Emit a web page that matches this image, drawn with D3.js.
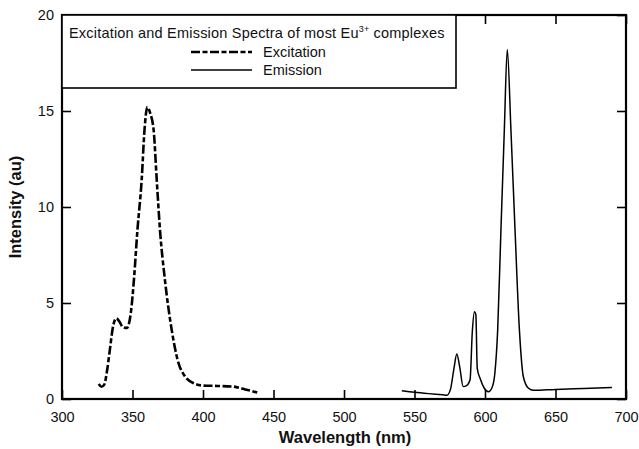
<!DOCTYPE html>
<html><head><meta charset="utf-8">
<script src="https://cdn.jsdelivr.net/npm/d3@7"></script>
<style>body{margin:0;background:#fff}svg{display:block}text{font-family:"Liberation Sans",Arial,sans-serif}</style>
</head><body><svg id="c" width="639" height="449"></svg>
<script>
const excWavelength = [326,328,330,332,334,336,338.5,341,343,346,349,351,353.5,356.5,358.5,360.5,362.5,365,367.2,369.5,373,377.8,382.5,387,394,400,410,421,430,440];
const excIntensity  = [0.78,0.64,0.75,1.5,2.6,3.7,4.2,4.0,3.75,3.7,4.6,6.2,8.8,11.4,14.0,15.2,14.9,14.0,11.4,8.8,6.2,3.6,1.9,1.2,0.8,0.7,0.68,0.65,0.5,0.3];
const emWavelength  = [541,550,560,570,573,575.5,578,580,582,584.5,587,589.4,591,592.5,593.5,594.5,596.5,599.5,602.4,605,607,609,611.3,613.7,615.8,618.4,621.3,624.4,627.2,630.7,634.3,650,670,690];
const emIntensity   = [0.43,0.35,0.28,0.22,0.2,0.5,1.6,2.35,1.7,0.65,0.7,1.0,3.5,4.55,4.4,1.6,1.08,0.56,0.38,0.6,1.35,3.6,8.8,14,18.2,14,8.8,3.6,1.16,0.57,0.45,0.5,0.55,0.6];
const xTicks = [300,350,400,450,500,550,600,650,700];
const yTicks = [0,5,10,15,20];
const seriesNames = ["Excitation","Emission"];
const legendTitle = "Excitation and Emission Spectra of most Eu";

const svg = d3.select("#c");
const L=62,R=626,T=15,B=399;
const x = d3.scaleLinear().domain([300,700]).range([L,R]);
const y = d3.scaleLinear().domain([0,20]).range([B,T]);

const fs = 14.5;
const ax = svg.append("g").attr("transform",`translate(0,${B})`)
  .call(d3.axisBottom(x).tickValues(xTicks).tickSizeInner(-9).tickSizeOuter(0).tickPadding(13));
const axT = svg.append("g").attr("transform",`translate(0,${T})`)
  .call(d3.axisTop(x).tickValues(xTicks).tickSizeInner(-9).tickSizeOuter(0).tickFormat(""));
const ayl = svg.append("g").attr("transform",`translate(${L},0)`)
  .call(d3.axisLeft(y).tickValues(yTicks).tickSizeInner(-9).tickSizeOuter(0).tickPadding(8));
const ayr = svg.append("g").attr("transform",`translate(${R},0)`)
  .call(d3.axisRight(y).tickValues(yTicks).tickSizeInner(-9).tickSizeOuter(0).tickFormat(""));
[ax,axT,ayl,ayr].forEach(g=>{
  g.select(".domain").remove();
  g.selectAll(".tick line").attr("stroke","#000").attr("stroke-width",1.6);
  g.selectAll(".tick text").attr("font-size",fs).attr("fill","#111").style("font-family","'Liberation Sans',Arial,sans-serif");
});
svg.append("rect").attr("x",L).attr("y",T).attr("width",R-L).attr("height",B-T)
  .attr("fill","none").attr("stroke","#000").attr("stroke-width",2.2);

const line = d3.line().x(d=>x(d[0])).y(d=>y(d[1])).curve(d3.curveMonotoneX);
const exc = excWavelength.map((w,i)=>[w,excIntensity[i]]);
const em = emWavelength.map((w,i)=>[w,emIntensity[i]]);
svg.append("path").attr("d",line(exc)).attr("fill","none").attr("stroke","#000")
  .attr("stroke-width",2.6).attr("stroke-dasharray","9,2.5,5,2.5");
svg.append("path").attr("d",line(em)).attr("fill","none").attr("stroke","#000").attr("stroke-width",1.5);

svg.append("rect").attr("x",L).attr("y",T).attr("width",456-L).attr("height",88-T)
  .attr("fill","#fff").attr("stroke","#000").attr("stroke-width",1.6);
const t = svg.append("text").attr("x",69).attr("y",38).attr("font-size",fs).attr("fill","#111")
  .attr("letter-spacing",0.2);
t.append("tspan").text(legendTitle);
t.append("tspan").attr("font-size",9).attr("dy",-6).text("3+");
t.append("tspan").attr("dy",6).text(" complexes");
svg.append("line").attr("x1",191).attr("x2",252).attr("y1",52).attr("y2",52)
  .attr("stroke","#000").attr("stroke-width",2.6).attr("stroke-dasharray","9,2.5,5,2.5");
svg.append("line").attr("x1",191).attr("x2",252).attr("y1",70).attr("y2",70)
  .attr("stroke","#000").attr("stroke-width",1.5);
svg.append("text").attr("x",263).attr("y",57).attr("font-size",fs).attr("fill","#111").text(seriesNames[0]);
svg.append("text").attr("x",263).attr("y",75).attr("font-size",fs).attr("fill","#111").text(seriesNames[1]);

svg.append("text").attr("x",345).attr("y",443).attr("text-anchor","middle")
  .attr("font-size",16.5).attr("font-weight","bold").attr("fill","#111").text("Wavelength (nm)");
svg.append("text").attr("transform","translate(21,207) rotate(-90)").attr("text-anchor","middle")
  .attr("font-size",16.5).attr("font-weight","bold").attr("fill","#111").text("Intensity (au)");
</script></body></html>
